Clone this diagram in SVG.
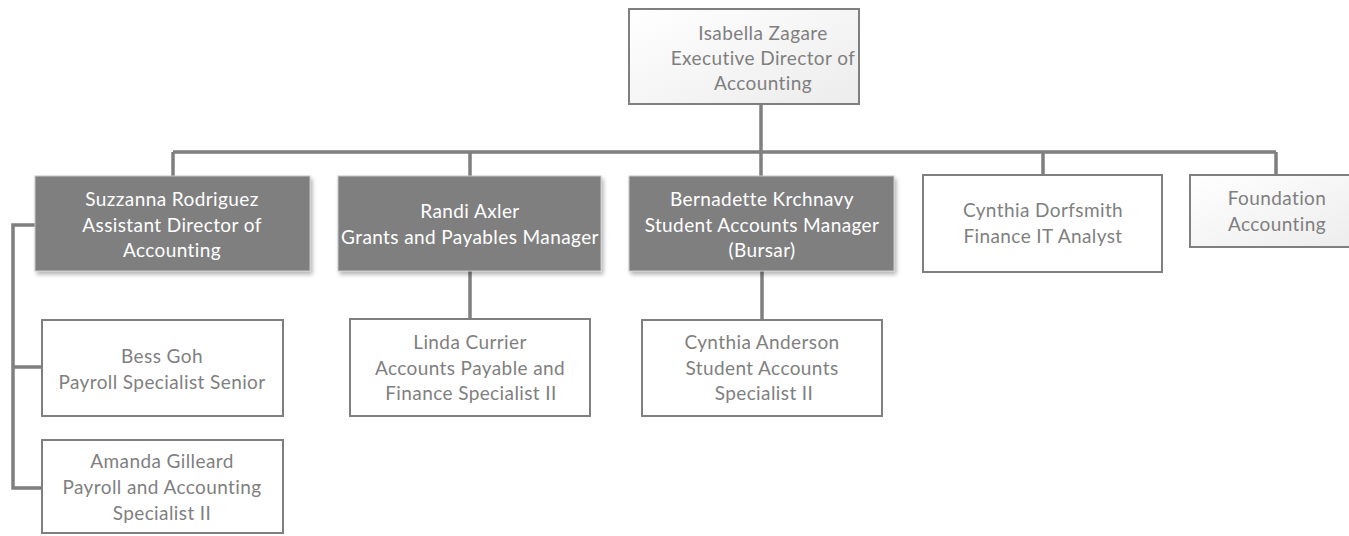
<svg xmlns="http://www.w3.org/2000/svg" width="1349" height="536" viewBox="0 0 1349 536">
<defs>
<linearGradient id="lg" x1="0" y1="0" x2="1" y2="1">
<stop offset="0" stop-color="#ffffff"/>
<stop offset="1" stop-color="#ececec"/>
</linearGradient>
<filter id="sh" x="-10%" y="-10%" width="125%" height="130%">
<feGaussianBlur in="SourceAlpha" stdDeviation="2"/>
<feOffset dx="2" dy="3" result="b"/>
<feComponentTransfer><feFuncA type="linear" slope="0.3"/></feComponentTransfer>
<feMerge><feMergeNode/><feMergeNode in="SourceGraphic"/></feMerge>
</filter>
</defs>
<style>
.w{fill:#ffffff;stroke:#7f7f7f;stroke-width:2}
.g{fill:url(#lg);stroke:#7f7f7f;stroke-width:2}
.d{fill:#7f7f7f;stroke:#c8c8c8;stroke-width:1;filter:url(#sh)}
text{font-family:Lato,"Liberation Sans",sans-serif;font-size:19px;letter-spacing:0.4px;text-anchor:middle}
.tw{fill:#7f7f7f}
.td{fill:#ffffff}
.c{fill:none;stroke:#7f7f7f;stroke-width:3.5}
</style>
<g id="connectors">
<path class="c" d="M761,104 V152 M173,152 H1276 M173,152 V176 M470,152 V176 M761,152 V176 M1043,152 V175 M1276,152 V175"/>
<path class="c" d="M470,271 V319 M762,271 V320"/>
<path class="c" d="M35,225 H13 V488 H42 M13,367 H42"/>
</g>
<g id="n-isabella">
<rect class="g" x="629" y="9" width="230" height="95"/>
<text class="tw" x="763" y="39.5">Isabella Zagare</text>
<text class="tw" x="763" y="65">Executive Director of</text>
<text class="tw" x="763" y="90">Accounting</text>
</g>
<g id="n-suzzanna">
<rect class="d" x="35" y="176" width="275" height="95"/>
<text class="td" x="172" y="206">Suzzanna Rodriguez</text>
<text class="td" x="172" y="231.5">Assistant Director of</text>
<text class="td" x="172" y="257">Accounting</text>
</g>
<g id="n-randi">
<rect class="d" x="338" y="176" width="263" height="95"/>
<text class="td" x="470" y="218">Randi Axler</text>
<text class="td" x="470" y="243.5">Grants and Payables Manager</text>
</g>
<g id="n-bernadette">
<rect class="d" x="629" y="176" width="265" height="95"/>
<text class="td" x="762" y="206">Bernadette Krchnavy</text>
<text class="td" x="762" y="231.5">Student Accounts Manager</text>
<text class="td" x="762" y="257">(Bursar)</text>
</g>
<g id="n-dorfsmith">
<rect class="w" x="923" y="175" width="239" height="97"/>
<text class="tw" x="1043" y="217">Cynthia Dorfsmith</text>
<text class="tw" x="1043" y="243">Finance IT Analyst</text>
</g>
<g id="n-foundation">
<rect class="g" x="1190" y="175" width="174" height="72"/>
<text class="tw" x="1277" y="205">Foundation</text>
<text class="tw" x="1277" y="231">Accounting</text>
</g>
<g id="n-bess">
<rect class="w" x="42" y="320" width="241" height="96"/>
<text class="tw" x="162" y="363">Bess Goh</text>
<text class="tw" x="162" y="388.5">Payroll Specialist Senior</text>
</g>
<g id="n-amanda">
<rect class="w" x="42" y="440" width="241" height="93"/>
<text class="tw" x="162" y="468">Amanda Gilleard</text>
<text class="tw" x="162" y="494">Payroll and Accounting</text>
<text class="tw" x="162" y="520">Specialist II</text>
</g>
<g id="n-linda">
<rect class="w" x="350" y="319" width="240" height="97"/>
<text class="tw" x="470" y="349">Linda Currier</text>
<text class="tw" x="470" y="374.5">Accounts Payable and</text>
<text class="tw" x="471" y="400">Finance Specialist II</text>
</g>
<g id="n-anderson">
<rect class="w" x="642" y="320" width="240" height="96"/>
<text class="tw" x="762" y="349">Cynthia Anderson</text>
<text class="tw" x="762" y="374.5">Student Accounts</text>
<text class="tw" x="764" y="400">Specialist II</text>
</g>
</svg>
